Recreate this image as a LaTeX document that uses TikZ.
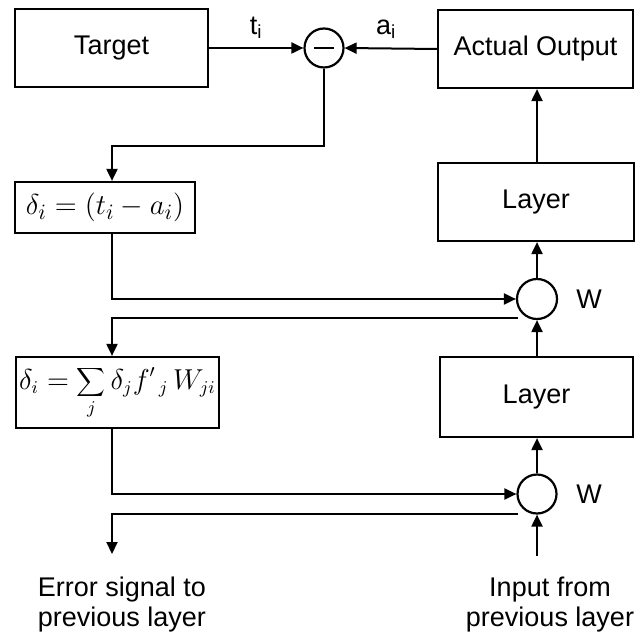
\documentclass[tikz,border=0pt]{standalone}
\usepackage{fontspec}
\setmainfont{Liberation Sans}
\usetikzlibrary{arrows.meta}
\begin{document}
\begin{tikzpicture}[x=0.5pt,y=-0.5pt,
  every node/.style={font=\fontsize{13.5}{15}\selectfont},
  box/.style={draw,line width=1.1pt,inner sep=0pt},
  eqbox/.style={draw,line width=1.1pt,inner sep=0pt,font=\fontsize{15}{18}\selectfont},
  circ/.style={draw,circle,line width=1.1pt,inner sep=0pt,minimum size=20pt},
  arr/.style={line width=1pt,-{Triangle[length=6pt,width=5.5pt]}},
  ln/.style={line width=1pt}]
\useasboundingbox (0,0) rectangle (635,635);
% boxes
\node[box,minimum width=96.5pt,minimum height=39pt] (target) at (111.5,48) {Target};
\node[circ,minimum size=19.5pt] (minus) at (324,48) {};
\draw[line width=0.9pt] ([xshift=-5pt]minus.center) -- ([xshift=5pt]minus.center);
\node[box,minimum width=97.5pt,minimum height=39pt] (actual) at (535.5,49) {Actual Output};
\node[box,minimum width=98pt,minimum height=39pt] (layer1) at (536,202) {Layer};
\node[circ] (w1) at (537,299) {};
\node[box,minimum width=96.5pt,minimum height=40pt] (layer2) at (536.5,397) {Layer};
\node[circ,minimum size=19.5pt] (w2) at (537,494) {};
\node (w1lab) at (589,299) {W};
\node (w2lab) at (589,494) {W};
\node[eqbox,minimum width=90pt,minimum height=25.5pt] (d1) at (105,207.5) {$\delta_i = (t_i - a_i)$};
\node[eqbox,minimum width=101.5pt,minimum height=35.5pt,font=\fontsize{13.5}{16}\selectfont] (d2) at (117.5,392.5) {$\delta_i = \displaystyle\sum_j \delta_j f'{}_{\,j}\, W_{ji}$};
% coordinates
\coordinate (colx) at (112,0);
\coordinate (bend1) at (112,146);
\coordinate (w1lo) at (518,318);
\coordinate (w2lo) at (518,514);
\coordinate (errtip) at (112,554);
\coordinate (inp) at (537,556);
% connectors
\draw[arr] (target.east) -- node[above=1pt,pos=0.5] {t\textsubscript{i}} (minus.west);
\draw[arr] (actual.west) -- node[above=1pt,pos=0.55] {a\textsubscript{i}} (minus.east);
\draw[arr] (minus.south) |- (bend1) -- (colx |- d1.north);
\draw[arr] (colx |- d1.south) |- (w1.west);
\draw[arr] (w1lo) -| (colx |- d2.north);
\draw[arr] (colx |- d2.south) |- (w2.west);
\draw[arr] (w2lo) -| (errtip);
\draw[arr] (w1.south |- layer2.north) -- (w1.south);
\draw[arr] (w1.north) -- (w1.north |- layer1.south);
\draw[arr] (w1.north |- layer1.north) -- (w1.north |- actual.south);
\draw[arr] (w2.north) -- (w2.north |- layer2.south);
\draw[arr] (inp) -- (w2.south);
% bottom texts
\node[align=center,font=\fontsize{13.5}{15}\selectfont] (errtxt) at (122,605) {Error signal to\\previous layer};
\node[align=center,font=\fontsize{13.5}{15}\selectfont] (inptxt) at (550,605) {Input from\\previous layer};
\end{tikzpicture}
\end{document}
